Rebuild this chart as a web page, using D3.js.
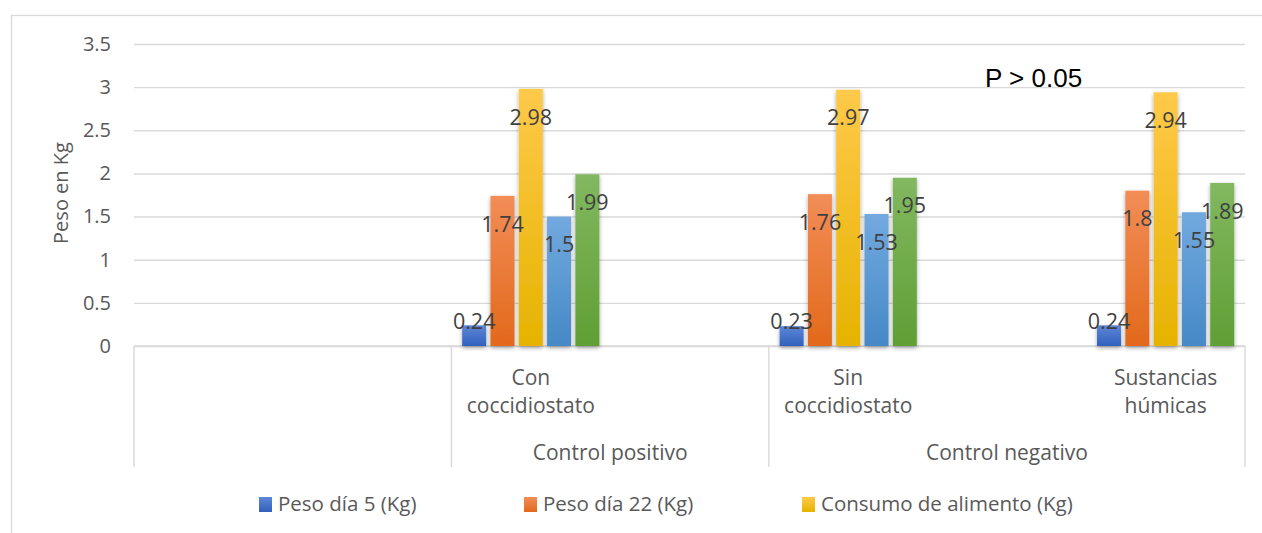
<!DOCTYPE html>
<html>
<head>
<meta charset="utf-8">
<script src="https://cdn.jsdelivr.net/npm/d3@7"></script>
<style>
  html, body { margin: 0; padding: 0; background: #ffffff; }
  svg { display: block; }
  text { font-family: "Open Sans", "DejaVu Sans", sans-serif; }
</style>
</head>
<body>
<svg id="chart" width="1262" height="533"></svg>
<script>
// Treatments (inner axis level) and the group each belongs to (outer level)
const categories = ["", "", "Con coccidiostato", "", "Sin coccidiostato", "", "Sustancias húmicas"];
const groups     = ["", "", "Control positivo", "Control positivo", "Control negativo", "Control negativo", "Control negativo"];

// Series values per category (null = empty slot)
const pesoDia5   = [null, null, 0.24, null, 0.23, null, 0.24];
const pesoDia22  = [null, null, 1.74, null, 1.76, null, 1.80];
const consumo    = [null, null, 2.98, null, 2.97, null, 2.94];
const serie4     = [null, null, 1.50, null, 1.53, null, 1.55];
const serie5     = [null, null, 1.99, null, 1.95, null, 1.89];

const legendLabels = ["Peso día 5 (Kg)", "Peso día 22 (Kg)", "Consumo de alimento (Kg)"];
const yTicks = [0, 0.5, 1, 1.5, 2, 2.5, 3, 3.5];
const yTitle = "Peso en Kg";
const note = "P > 0.05";

const seriesValues = [pesoDia5, pesoDia22, consumo, serie4, serie5];
const seriesColors = [
  ["#5d87d6", "#3160bd"],
  ["#f28d57", "#e2691b"],
  ["#ffc94a", "#e6b300"],
  ["#72a9df", "#4589c6"],
  ["#82b860", "#5f9f34"]
];

const svg = d3.select("#chart");
const plot = { left: 134, right: 1245, top: 44, bottom: 346 };
const axisBottom = 467;

// Gradients and soft shadow for bars
const defs = svg.append("defs");
seriesColors.forEach((c, i) => {
  const g = defs.append("linearGradient").attr("id", "grad" + i)
    .attr("x1", 0).attr("y1", 0).attr("x2", 0).attr("y2", 1);
  g.append("stop").attr("offset", "0%").attr("stop-color", c[0]);
  g.append("stop").attr("offset", "100%").attr("stop-color", c[1]);
});
const f = defs.append("filter").attr("id", "shadow")
  .attr("x", "-30%").attr("y", "-10%").attr("width", "160%").attr("height", "130%");
f.append("feDropShadow").attr("dx", 0).attr("dy", 2).attr("stdDeviation", 2)
  .attr("flood-color", "#000").attr("flood-opacity", 0.35);

// Outer chart frame
svg.append("rect").attr("x", 11.5).attr("y", 15.5).attr("width", 1300).attr("height", 600)
  .attr("fill", "none").attr("stroke", "#d9d9d9").attr("stroke-width", 1.3);

const x = d3.scaleBand().domain(d3.range(categories.length))
  .range([plot.left, plot.right]).padding(0);
const xs = d3.scaleBand().domain(d3.range(seriesValues.length))
  .range([0, x.bandwidth()]).paddingInner(0.152).paddingOuter(0.38);
const y = d3.scaleLinear().domain([0, 3.5]).range([plot.bottom, plot.top]);

// Gridlines and tick labels
const yAxis = d3.axisLeft(y).tickValues(yTicks).tickSize(-(plot.right - plot.left))
  .tickPadding(23).tickFormat(d3.format("~g"));
const ya = svg.append("g").attr("transform", `translate(${plot.left},0)`).call(yAxis);
ya.select(".domain").remove();
ya.selectAll(".tick line").attr("stroke", "#d9d9d9").attr("stroke-width", 1.4);
ya.selectAll(".tick text").attr("fill", "#595959").style("font-size", "20px")
  .style("font-family", "'Open Sans', sans-serif");

// Y axis title
svg.append("text").attr("transform", `translate(68,193) rotate(-90)`)
  .attr("text-anchor", "middle").attr("fill", "#595959").style("font-size", "20px")
  .text(yTitle);

// Category axis: baseline and group dividers
svg.append("line").attr("x1", plot.left).attr("x2", plot.right)
  .attr("y1", plot.bottom).attr("y2", plot.bottom)
  .attr("stroke", "#d9d9d9").attr("stroke-width", 1.4);

const groupSpans = [];
groups.forEach((g, i) => {
  const last = groupSpans[groupSpans.length - 1];
  if (last && last.name === g) last.end = i; else groupSpans.push({ name: g, start: i, end: i });
});
const dividers = [plot.left].concat(groupSpans.map(s => x(s.end) + x.bandwidth()));
svg.append("g").selectAll("line").data(dividers).join("line")
  .attr("x1", d => d).attr("x2", d => d)
  .attr("y1", plot.bottom).attr("y2", axisBottom)
  .attr("stroke", "#d9d9d9").attr("stroke-width", 1.4);

// Inner category labels (wrapped on two lines)
const catG = svg.append("g");
categories.forEach((c, i) => {
  if (!c) return;
  const words = c.split(" ");
  const t = catG.append("text").attr("text-anchor", "middle").attr("fill", "#595959")
    .style("font-size", "21px");
  words.forEach((w, k) => {
    t.append("tspan").attr("x", x(i) + x.bandwidth() / 2).attr("y", 385 + k * 28).text(w);
  });
});

// Outer group labels
svg.append("g").selectAll("text").data(groupSpans.filter(s => s.name)).join("text")
  .attr("x", s => (x(s.start) + x(s.end) + x.bandwidth()) / 2)
  .attr("y", 460).attr("text-anchor", "middle").attr("fill", "#595959")
  .style("font-size", "21px").text(s => s.name);

// Bars
const barData = [];
seriesValues.forEach((vals, si) => vals.forEach((v, ci) => {
  if (v != null) barData.push({ si, ci, v });
}));
svg.append("g").selectAll("rect").data(barData).join("rect")
  .attr("x", d => x(d.ci) + xs(d.si))
  .attr("width", xs.bandwidth())
  .attr("y", d => y(d.v))
  .attr("height", d => y(0) - y(d.v))
  .attr("fill", d => `url(#grad${d.si})`)
  .attr("filter", "url(#shadow)");

// Value labels
svg.append("g").selectAll("text").data(barData).join("text")
  .attr("x", d => x(d.ci) + xs(d.si) + xs.bandwidth() / 2)
  .attr("y", d => Math.min(y(d.v) + 28, y(0) - 25))
  .attr("dy", "0.36em").attr("text-anchor", "middle")
  .attr("fill", "#404040").style("font-size", "21.5px")
  .text(d => d3.format("~g")(d.v));

// Significance note
svg.append("text").attr("x", 985).attr("y", 87)
  .style("font-family", "'Liberation Sans', Arial, sans-serif")
  .style("font-size", "26px").attr("fill", "#000").text(note);

// Legend
const legendX = [259, 524, 802];
const lg = svg.append("g").selectAll("g").data(legendLabels).join("g")
  .attr("transform", (d, i) => `translate(${legendX[i]},0)`);
lg.append("rect").attr("x", 0).attr("y", 497).attr("width", 13).attr("height", 15)
  .attr("fill", (d, i) => `url(#grad${i})`);
lg.append("text").attr("x", 19).attr("y", 504).attr("dy", "0.35em")
  .attr("fill", "#595959").style("font-size", "20.5px").text(d => d);
</script>
</body>
</html>
